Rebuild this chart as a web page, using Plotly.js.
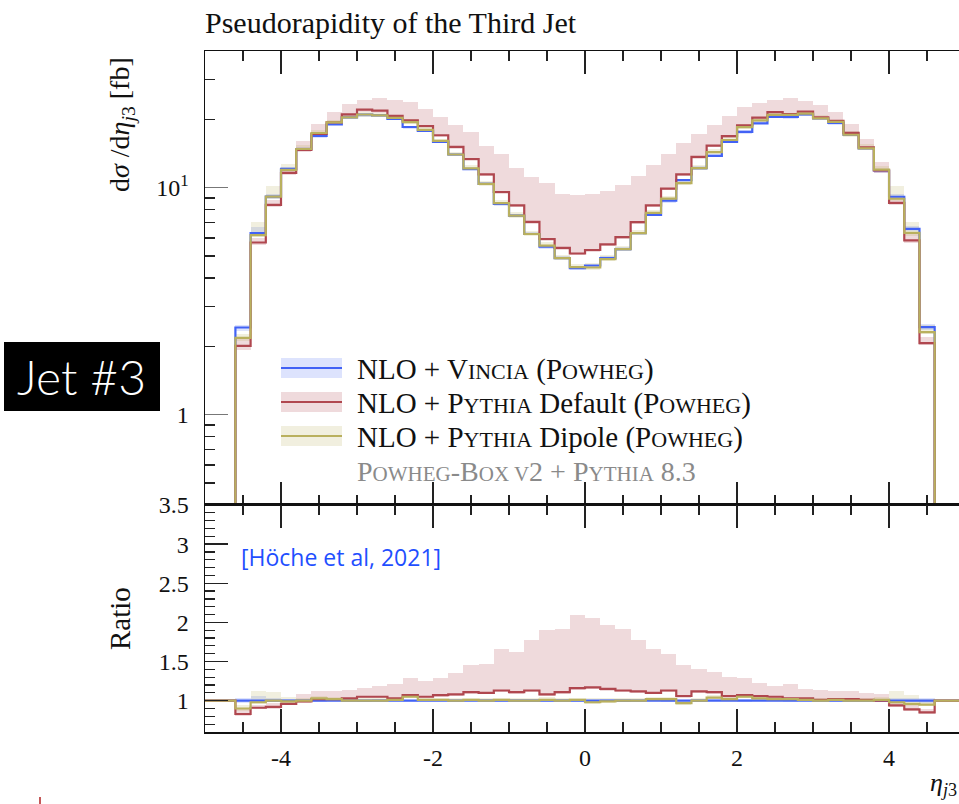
<!DOCTYPE html>
<html>
<head>
<meta charset="utf-8">
<script src="https://cdn.plot.ly/plotly-3.0.1.min.js"></script>
<style>html,body{margin:0;padding:0;background:#fff;}#chart{width:959px;height:804px;}</style>
</head>
<body>
<div id="chart"></div>
<script>
// ---- DATA ----
const binEdges = [-4.6,-4.4,-4.2,-4.0,-3.8,-3.6,-3.4,-3.2,-3.0,-2.8,-2.6,-2.4,-2.2,-2.0,-1.8,-1.6,-1.4,-1.2,-1.0,-0.8,-0.6,-0.4,-0.2,0.0,0.2,0.4,0.6,0.8,1.0,1.2,1.4,1.6,1.8,2.0,2.2,2.4,2.6,2.8,3.0,3.2,3.4,3.6,3.8,4.0,4.2,4.4,4.6];

// NLO + Vincia (reference) dsigma/deta [fb]
const vinciaXS = [2.42,6.30,9.13,12.1,14.8,16.9,19.0,20.4,21.0,20.8,20.1,18.5,17.8,15.9,14.0,12.05,10.4,8.47,7.53,6.25,5.50,4.89,4.42,4.54,4.89,5.36,6.30,7.59,8.77,10.8,12.2,13.8,15.9,17.6,19.2,20.5,20.5,21.0,20.2,19.3,17.1,14.9,11.9,9.12,6.58,2.43];
const vinciaLo = [0.97,0.98,0.98,0.99,0.99,0.98,0.99,0.99,0.98,0.99,0.99,0.98,0.99,0.99,0.98,0.99,0.99,0.98,0.99,0.99,0.98,0.99,0.98,0.98,0.99,0.98,0.99,0.99,0.98,0.99,0.98,0.99,0.99,0.98,0.99,0.99,0.98,0.99,0.99,0.98,0.99,0.99,0.98,0.98,0.98,0.97];
const vinciaHi = [1.03,1.06,1.03,1.02,1.02,1.01,1.02,1.02,1.01,1.02,1.02,1.01,1.02,1.02,1.01,1.02,1.02,1.01,1.02,1.02,1.01,1.02,1.02,1.01,1.02,1.02,1.01,1.02,1.02,1.01,1.02,1.02,1.01,1.02,1.02,1.01,1.02,1.02,1.01,1.02,1.02,1.01,1.02,1.03,1.03,1.03];

// Ratios to Vincia
const pyDefRatio = [0.83,0.91,0.92,0.96,0.99,1.02,1.02,1.03,1.05,1.05,1.03,1.07,1.05,1.07,1.08,1.11,1.10,1.13,1.11,1.13,1.08,1.11,1.16,1.17,1.15,1.13,1.12,1.10,1.13,1.06,1.12,1.11,1.06,1.07,1.06,1.05,1.03,1.03,1.01,1.02,1.02,1.01,1.00,0.94,0.89,0.85];
const pyDefLo = [0.80,0.89,0.90,0.94,0.97,1.00,1.00,1.01,1.03,1.03,1.01,1.05,1.03,1.05,1.06,1.09,1.08,1.11,1.09,1.11,1.06,1.09,1.14,1.15,1.13,1.11,1.10,1.08,1.11,1.04,1.10,1.09,1.04,1.05,1.04,1.03,1.01,1.01,0.99,1.00,1.00,0.99,0.98,0.92,0.87,0.83];
const pyDefHi = [0.90,0.95,0.97,1.01,1.08,1.13,1.13,1.14,1.16,1.19,1.21,1.29,1.25,1.29,1.35,1.46,1.47,1.66,1.62,1.78,1.90,1.92,2.09,2.06,1.97,1.91,1.78,1.66,1.60,1.46,1.41,1.37,1.30,1.29,1.23,1.19,1.21,1.15,1.14,1.12,1.12,1.10,1.09,1.00,0.95,0.90];

const pyDipRatio = [0.90,0.98,1.00,0.99,1.00,1.03,1.02,1.00,1.00,1.00,1.01,1.05,1.01,1.01,1.00,1.01,1.00,1.01,1.00,1.00,1.01,1.00,1.01,0.98,0.99,1.00,1.00,1.02,1.02,0.97,1.00,1.04,1.02,1.05,1.03,1.02,1.02,1.01,1.00,1.01,1.00,1.00,1.01,0.98,0.96,0.95];
const pyDipLo = [0.87,0.96,0.98,0.97,0.98,1.01,1.00,0.98,0.98,0.98,0.99,1.03,0.99,0.99,0.98,0.99,0.98,0.99,0.98,0.98,0.99,0.98,0.99,0.96,0.97,0.98,0.98,1.00,1.00,0.95,0.98,1.02,1.00,1.03,1.01,1.00,1.00,0.99,0.98,0.99,0.98,0.98,0.99,0.96,0.93,0.93];
const pyDipHi = [0.94,1.12,1.11,1.05,1.04,1.06,1.05,1.04,1.03,1.03,1.04,1.08,1.04,1.03,1.03,1.04,1.03,1.04,1.04,1.03,1.05,1.03,1.04,1.03,1.03,1.03,1.03,1.05,1.05,1.00,1.03,1.07,1.05,1.08,1.06,1.05,1.04,1.04,1.03,1.03,1.04,1.04,1.05,1.12,1.07,1.02];

const legendLabels = [
  "NLO + V<span style='font-size:22px'>INCIA</span> (P<span style='font-size:22px'>OWHEG</span>)",
  "NLO + P<span style='font-size:22px'>YTHIA</span> Default (P<span style='font-size:22px'>OWHEG</span>)",
  "NLO + P<span style='font-size:22px'>YTHIA</span> Dipole (P<span style='font-size:22px'>OWHEG</span>)"
];
const xTickVals = [-4,-2,0,2,4];
const xTickText = ['-4','-2','0','2','4'];

// ---- STYLE ----
const lineCols = ['#4262f5','#b0474f','#b9b05e'];
const bandCols = ['rgba(66,98,245,0.18)','rgba(176,71,79,0.2)','rgba(185,176,94,0.2)'];
const serif = 'Liberation Serif, DejaVu Serif, serif';

// ---- BUILD ----
const nBins = vinciaXS.length;
const centers = [], widths = [];
for (let i = 0; i < nBins; i++) { centers.push((binEdges[i]+binEdges[i+1])/2); widths.push(binEdges[i+1]-binEdges[i]); }
const eLast = binEdges[nBins];

const series = [
  {ratio: vinciaXS.map(() => 1), lo: vinciaLo, hi: vinciaHi},
  {ratio: pyDefRatio, lo: pyDefLo, hi: pyDefHi},
  {ratio: pyDipRatio, lo: pyDipLo, hi: pyDipHi}
];

const traces = [];
// bands
series.forEach((s, k) => {
  traces.push({type:'bar', x: centers, width: widths, base: vinciaXS.map((v,i)=>v*s.lo[i]),
    y: vinciaXS.map((v,i)=>v*(s.hi[i]-s.lo[i])), marker:{color: bandCols[k], line:{width:0}},
    xaxis:'x', yaxis:'y', showlegend:false, hoverinfo:'skip'});
  traces.push({type:'bar', x: centers, width: widths, base: s.lo, y: s.hi.map((h,i)=>h-s.lo[i]),
    marker:{color: bandCols[k], line:{width:0}}, xaxis:'x2', yaxis:'y2', showlegend:false, hoverinfo:'skip'});
});
// lines
series.forEach((s, k) => {
  const xm = [binEdges[0]], ym = [0.01];
  for (let i = 0; i < nBins; i++) { xm.push(binEdges[i]); ym.push(vinciaXS[i]*s.ratio[i]); }
  xm.push(eLast); ym.push(vinciaXS[nBins-1]*s.ratio[nBins-1]);
  xm.push(eLast); ym.push(0.01);
  traces.push({type:'scatter', mode:'lines', x: xm, y: ym, line:{color: lineCols[k], width:2.2, shape:'hv'},
    xaxis:'x', yaxis:'y', showlegend:false, hoverinfo:'skip'});
  const xr = [-5], yr = [1];
  for (let i = 0; i < nBins; i++) { xr.push(binEdges[i]); yr.push(s.ratio[i]); }
  xr.push(eLast); yr.push(1); xr.push(5); yr.push(1);
  traces.push({type:'scatter', mode:'lines', x: xr, y: yr, line:{color: lineCols[k], width:2.2, shape:'hv'},
    xaxis:'x2', yaxis:'y2', showlegend:false, hoverinfo:'skip'});
});

// pixel -> paper helpers (plot area: x 205..959, y 51..732)
const PX = px => (px - 205) / 754;
const PY = py => (732 - py) / 681;

const shapes = [];
const annotations = [];
// legend
const legY = [368, 402, 436];
legY.forEach((y, k) => {
  shapes.push({type:'rect', xref:'paper', yref:'paper', x0: PX(281), x1: PX(342), y0: PY(y+10), y1: PY(y-10), fillcolor: bandCols[k], line:{width:0}, layer:'above'});
  shapes.push({type:'line', xref:'paper', yref:'paper', x0: PX(281), x1: PX(342), y0: PY(y), y1: PY(y), line:{color: lineCols[k], width:2.2}, layer:'above'});
  annotations.push({xref:'paper', yref:'paper', x: PX(355), y: PY(y+1), xanchor:'left', yanchor:'middle', showarrow:false,
    text: legendLabels[k], font:{family: serif, size:29, color:'#111'}});
});
annotations.push({xref:'paper', yref:'paper', x: PX(355), y: PY(471), xanchor:'left', yanchor:'middle', showarrow:false,
  text: "P<span style='font-size:21px'>OWHEG</span>-B<span style='font-size:21px'>OX V</span>2 + P<span style='font-size:21px'>YTHIA</span> 8.3",
  font:{family: serif, size:28, color:'#8a8a8a'}});
// citation
annotations.push({xref:'paper', yref:'paper', x: PX(239), y: PY(557), xanchor:'left', yanchor:'middle', showarrow:false,
  text:'[Höche et al, 2021]', font:{family:'Open Sans, sans-serif', size:23, color:'#1f4fff'}});
// Jet #3 box
shapes.push({type:'rect', xref:'paper', yref:'paper', x0: PX(4), x1: PX(160), y0: PY(411), y1: PY(342), fillcolor:'#000', line:{width:0}, layer:'above'});
annotations.push({xref:'paper', yref:'paper', x: PX(81), y: PY(376), xanchor:'center', yanchor:'middle', showarrow:false,
  text:'Jet #3', font:{family:'Lato, Open Sans, sans-serif', size:48, weight:300, color:'#fff'}});
// tiny red mark
shapes.push({type:'line', xref:'paper', yref:'paper', x0: PX(40), x1: PX(40), y0: PY(797), y1: PY(804), line:{color:'#b02020', width:1.5}});
// axis titles
annotations.push({xref:'paper', yref:'paper', x: PX(122), y: PY(125), xanchor:'center', yanchor:'middle', textangle:-90, showarrow:false,
  text:'d<i>σ</i> /d<i>η</i><sub><i>j</i>3</sub> [fb]', font:{family: serif, size:28, color:'#111'}});
annotations.push({xref:'paper', yref:'paper', x: PX(120), y: PY(619), xanchor:'center', yanchor:'middle', textangle:-90, showarrow:false,
  text:'Ratio', font:{family: serif, size:29, color:'#111'}});
annotations.push({xref:'paper', yref:'paper', x: PX(943), y: PY(784), xanchor:'center', yanchor:'middle', showarrow:false,
  text:'<i>η</i><sub><i>j</i>3</sub>', font:{family: serif, size:26, color:'#111'}});

const commonX = {range:[-5, 4.92], showgrid:false, zeroline:false, showline:true, linecolor:'#111', linewidth:1.5, mirror:'allticks',
  ticks:'inside', ticklen:23, tickwidth:1.3, tickcolor:'#222', tickvals: xTickVals,
  minor:{ticks:'inside', ticklen:10, tickwidth:1.2, tickcolor:'#222', tickvals:[-4.5,-3.5,-3,-2.5,-1.5,-1,-0.5,0.5,1,1.5,2.5,3,3.5,4.5]}};

const tickFont = {family: serif, size:24, color:'#111'};
const layout = {
  width:959, height:804,
  margin:{l:205, r:0, t:51, b:72, pad:0},
  paper_bgcolor:'#fff', plot_bgcolor:'#fff',
  barmode:'overlay', bargap:0,
  title:{text:'Pseudorapidity of the Third Jet', x:0, xref:'paper', xanchor:'left', y:1-22/804, yref:'container', yanchor:'middle',
    font:{family: serif, size:30, color:'#111'}},
  xaxis: Object.assign({}, commonX, {anchor:'y', showticklabels:false}),
  xaxis2: Object.assign({}, commonX, {anchor:'y2', ticktext: xTickText, tickfont: tickFont, ticklabelstandoff:4}),
  yaxis: {type:'log', domain:[0.3334, 1], anchor:'x', range:[Math.log10(0.4), Math.log10(40)], showgrid:false, zeroline:false,
    showline:true, linecolor:'#111', linewidth:1.5, ticks:'inside', ticklen:23, tickwidth:1.5, tickcolor:'#777',
    tickvals:[1,10], ticktext:['1','10<sup>1</sup>'], tickfont: tickFont, ticklabelstandoff:10,
    minor:{ticks:'inside', ticklen:10, tickwidth:1.2, tickcolor:'#222', tickvals:[0.4,0.5,0.6,0.7,0.8,0.9,2,3,4,5,6,7,8,9,20,30,40]}},
  yaxis2: {domain:[0, 0.3334], anchor:'x2', range:[0.6, 3.5], showgrid:false, zeroline:false,
    showline:true, linecolor:'#111', linewidth:1.5, ticks:'inside', ticklen:23, tickwidth:1.3, tickcolor:'#222',
    tickvals:[1,1.5,2,2.5,3,3.5], ticktext:['1','1.5','2','2.5','3','3.5'], tickfont: tickFont, ticklabelstandoff:10,
    minor:{ticks:'inside', ticklen:10, tickwidth:1.2, tickcolor:'#222', dtick:0.1, tick0:0}},
  shapes: shapes,
  annotations: annotations
};

Plotly.newPlot('chart', traces, layout, {staticPlot:true, displayModeBar:false});
</script>
</body>
</html>
